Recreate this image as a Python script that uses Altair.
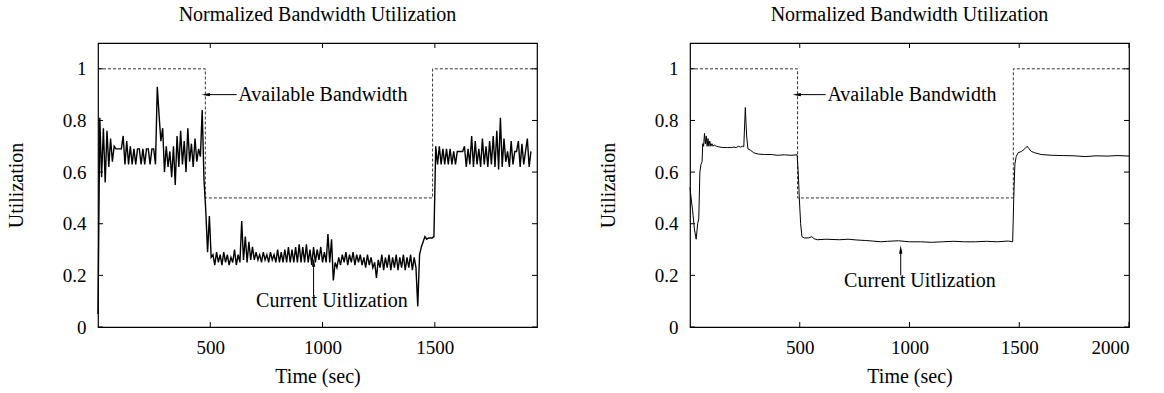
import altair as alt
import pandas as pd

FONT = "Liberation Serif"
TITLE = "Normalized Bandwidth Utilization"
W, H = 439, 284

# ---------------- Left panel data ----------------
left_step = 8  # seconds between samples
left_util = [
    0.05, 0.81, 0.58, 0.77, 0.56, 0.76, 0.62, 0.73, 0.64, 0.70,
    0.69, 0.69, 0.69, 0.69, 0.74, 0.63, 0.72, 0.63, 0.70, 0.63,
    0.69, 0.63, 0.69, 0.69, 0.63, 0.69, 0.63, 0.69, 0.69, 0.63,
    0.69, 0.69, 0.63, 0.93, 0.82, 0.72, 0.77, 0.60, 0.70, 0.62,
    0.68, 0.58, 0.70, 0.55, 0.74, 0.62, 0.76, 0.63, 0.72, 0.60,
    0.77, 0.64, 0.71, 0.62, 0.73, 0.64, 0.69, 0.66, 0.84, 0.57,
    0.45, 0.29, 0.43, 0.27, 0.28, 0.24, 0.29, 0.25, 0.28, 0.24,
    0.29, 0.25, 0.28, 0.24, 0.27, 0.25, 0.30, 0.24, 0.28, 0.25,
    0.41, 0.26, 0.35, 0.25, 0.33, 0.26, 0.31, 0.26, 0.29, 0.26,
    0.28, 0.25, 0.29, 0.26, 0.28, 0.25, 0.29, 0.26, 0.28, 0.25,
    0.30, 0.25, 0.29, 0.25, 0.30, 0.25, 0.31, 0.25, 0.30, 0.25,
    0.31, 0.25, 0.32, 0.25, 0.31, 0.25, 0.32, 0.25, 0.30, 0.24,
    0.31, 0.25, 0.30, 0.26, 0.31, 0.25, 0.29, 0.25, 0.36, 0.25,
    0.34, 0.18, 0.25, 0.23, 0.27, 0.24, 0.28, 0.25, 0.29, 0.24,
    0.28, 0.25, 0.29, 0.24, 0.28, 0.25, 0.28, 0.24, 0.27, 0.23,
    0.28, 0.24, 0.27, 0.23, 0.25, 0.19, 0.26, 0.23, 0.28, 0.22,
    0.27, 0.23, 0.28, 0.22, 0.27, 0.23, 0.28, 0.22, 0.27, 0.23,
    0.28, 0.22, 0.27, 0.23, 0.28, 0.22, 0.27, 0.23, 0.08, 0.28,
    0.31, 0.33, 0.35, 0.34, 0.345, 0.345, 0.345, 0.35, 0.70, 0.63,
    0.70, 0.63, 0.69, 0.63, 0.69, 0.63, 0.69, 0.63, 0.68, 0.63,
    0.68, 0.68, 0.68, 0.68, 0.70, 0.62, 0.69, 0.63, 0.74, 0.62,
    0.72, 0.63, 0.69, 0.62, 0.73, 0.63, 0.70, 0.62, 0.72, 0.63,
    0.74, 0.62, 0.76, 0.61, 0.81, 0.62, 0.73, 0.64, 0.68, 0.62,
    0.72, 0.63, 0.68, 0.68, 0.72, 0.62, 0.71, 0.63, 0.68, 0.73,
    0.62, 0.68,
]
left_time = [i * left_step for i in range(len(left_util))]
left_bw_time = [0, 478, 1490, 1955]
left_bw_val = [1.0, 0.5, 1.0, 1.0]
left_xmax = 1955
left_xticks = [500, 1000, 1500]

# ---------------- Right panel data ----------------
right_time = [
    0, 5, 12, 20, 28, 35, 40, 45, 50, 55,
    58, 62, 66, 70, 74, 78, 82, 86, 90, 95,
    100, 105, 110, 120, 130, 150, 170, 190, 200, 210,
    220, 230, 240, 245, 252, 258, 264, 275, 290, 310,
    340, 370, 400, 430, 460, 488, 493, 498, 504, 510,
    520, 540, 555, 565, 580, 620, 680, 720, 760, 800,
    830, 870, 900, 950, 1000, 1050, 1100, 1150, 1200, 1250,
    1300, 1350, 1400, 1450, 1470, 1475, 1480, 1486, 1495, 1510,
    1525, 1536, 1545, 1555, 1570, 1600, 1650, 1700, 1750, 1800,
    1850, 1900, 1950, 2000,
]
right_util = [
    0.54, 0.50, 0.45, 0.38, 0.34, 0.40, 0.42, 0.60, 0.63, 0.64,
    0.71, 0.70, 0.75, 0.71, 0.74, 0.70, 0.73, 0.70, 0.72, 0.70,
    0.71, 0.70, 0.705, 0.70, 0.698, 0.695, 0.695, 0.695, 0.697, 0.695,
    0.70, 0.697, 0.70, 0.698, 0.85, 0.74, 0.69, 0.685, 0.675, 0.67,
    0.668, 0.668, 0.665, 0.667, 0.665, 0.667, 0.60, 0.50, 0.40, 0.35,
    0.345, 0.345, 0.35, 0.342, 0.338, 0.34, 0.338, 0.34, 0.337, 0.335,
    0.333, 0.33, 0.332, 0.334, 0.33, 0.33, 0.328, 0.33, 0.332, 0.33,
    0.33, 0.332, 0.33, 0.333, 0.33, 0.50, 0.63, 0.66, 0.675, 0.68,
    0.69, 0.70, 0.69, 0.68, 0.675, 0.668, 0.665, 0.664, 0.663, 0.66,
    0.663, 0.662, 0.664, 0.662,
]
right_bw_time = [0, 490, 1473, 2000]
right_bw_val = [1.0, 0.5, 1.0, 1.0]
right_xmax = 2000
right_xticks = [500, 1000, 1500, 2000]

y_ticks = [0, 0.2, 0.4, 0.6, 0.8, 1.0]

# ---------------- Annotations (data coordinates) ----------------
avail_label = "Available Bandwidth"
current_label = "Current Uitlization"
left_avail_text = (625, 0.9)
left_avail_arrow = (618, 480, 0.9)       # from x, to x, at y
left_cur_text = (704, 0.10)
left_cur_arrow = (960, 0.12, 0.25)       # at x, from y, to y
right_avail_text = (626, 0.9)
right_avail_arrow = (618, 486, 0.9)
right_cur_text = (702, 0.18)
right_cur_arrow = (960, 0.20, 0.30)

TICK_FS = 19
TEXT_FS = 20


def panel(t, u, bwt, bwv, xmax, xticks, a_text, a_arrow, c_text, c_arrow, lw):
    xs = alt.Scale(domain=[0, xmax], nice=False, zero=False)
    ys = alt.Scale(domain=[0, 1.1], nice=False, zero=False)
    xaxis = alt.Axis(values=xticks, format="d", title="Time (sec)", ticks=False, domain=False,
                     grid=False, labelPadding=11, titleX=W / 2, titleY=49,
                     titleBaseline="middle", titleAlign="center")
    yaxis = alt.Axis(values=y_ticks, format="~g", title="Utilization", ticks=False,
                     domain=False, grid=False, labelPadding=12, titleX=-82,
                     titleY=H / 2, titleAngle=270, titleBaseline="middle",
                     titleAlign="center")

    def X(f):
        return alt.X(f, type="quantitative", scale=xs, axis=xaxis)

    def Y(f):
        return alt.Y(f, type="quantitative", scale=ys, axis=yaxis)

    util_df = pd.DataFrame({"t": t, "v": u})
    bw_df = pd.DataFrame({"t": bwt, "v": bwv})
    xt_df = pd.DataFrame({"t": xticks})
    yt_df = pd.DataFrame({"v": y_ticks})

    bw = alt.Chart(bw_df).mark_line(interpolate="step-after", strokeDash=[3, 2],
                                    color="#333", strokeWidth=1).encode(x=X("t"), y=Y("v"))
    util = alt.Chart(util_df).mark_line(color="black", strokeWidth=lw).encode(x=X("t"), y=Y("v"))

    tb = alt.Chart(xt_df).mark_rule(color="black", strokeWidth=1).encode(
        x=X("t"), y=alt.value(H), y2=alt.value(H - 5))
    tt = alt.Chart(xt_df).mark_rule(color="black", strokeWidth=1).encode(
        x=X("t"), y=alt.value(0), y2=alt.value(5))
    tl = alt.Chart(yt_df).mark_rule(color="black", strokeWidth=1).encode(
        y=Y("v"), x=alt.value(0), x2=alt.value(5))
    tr = alt.Chart(yt_df).mark_rule(color="black", strokeWidth=1).encode(
        y=Y("v"), x=alt.value(W), x2=alt.value(W - 5))

    ann_df = pd.DataFrame({"x": [a_text[0], c_text[0]], "y": [a_text[1], c_text[1]],
                           "label": [avail_label, current_label]})
    ann = alt.Chart(ann_df).mark_text(align="left", baseline="middle", font=FONT,
                                      fontSize=TEXT_FS, color="black").encode(
        x=X("x"), y=Y("y"), text="label:N")

    ha_df = pd.DataFrame({"x": [a_arrow[0]], "x2": [a_arrow[1]], "y": [a_arrow[2]]})
    harrow = alt.Chart(ha_df).mark_rule(color="black", strokeWidth=1).encode(
        x=X("x"), x2="x2", y=Y("y"))
    hhead = alt.Chart(ha_df).mark_point(shape="M-1,0L1,-0.4L1,0.4Z", filled=True, size=70,
                                        color="black", opacity=1).encode(x=X("x2"), y=Y("y"))

    va_df = pd.DataFrame({"x": [c_arrow[0]], "y": [c_arrow[1]], "y2": [c_arrow[2]]})
    varrow = alt.Chart(va_df).mark_rule(color="black", strokeWidth=1).encode(
        x=X("x"), y=Y("y"), y2="y2")
    vhead = alt.Chart(va_df).mark_point(shape="M0,-1L-0.4,1L0.4,1Z", filled=True, size=70,
                                        color="black", opacity=1).encode(x=X("x"), y=Y("y2"))

    return alt.layer(bw, util, tb, tt, tl, tr, ann, harrow, hhead, varrow, vhead).properties(
        width=W, height=H,
        title=alt.Title(TITLE, font=FONT, fontSize=TEXT_FS, fontWeight="normal",
                        color="black", offset=18, anchor="middle"))


left = panel(left_time, left_util, left_bw_time, left_bw_val, left_xmax, left_xticks,
             left_avail_text, left_avail_arrow, left_cur_text, left_cur_arrow, 1.4)
right = panel(right_time, right_util, right_bw_time, right_bw_val, right_xmax, right_xticks,
              right_avail_text, right_avail_arrow, right_cur_text, right_cur_arrow, 1.0)

chart = alt.hconcat(left, right, spacing=57).properties(
    padding={"left": 5, "top": 3, "right": 5, "bottom": 5}
).configure_view(stroke="black", strokeWidth=1.2).configure_axis(
    labelFont=FONT, titleFont=FONT, labelFontSize=TICK_FS, titleFontSize=TEXT_FS,
    titleFontWeight="normal", labelColor="black", titleColor="black"
).configure_title(font=FONT, fontSize=TEXT_FS, fontWeight="normal", color="black")

chart.save("out.html", embed_options={"renderer": "svg", "actions": False})
